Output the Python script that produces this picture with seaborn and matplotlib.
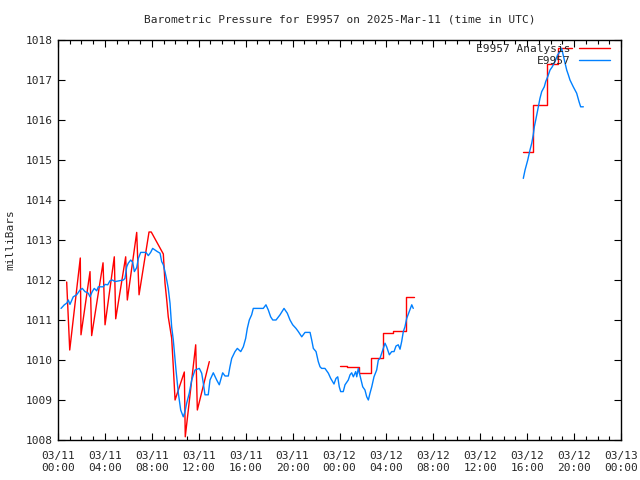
import pandas as pd
import numpy as np
import matplotlib
matplotlib.use("Agg")
import matplotlib.pyplot as plt
import matplotlib.dates as mdates
import seaborn as sns

# hours after 2025-03-11 00:00 UTC, pressure in mb
start = pd.Timestamp("2025-03-11 00:00")

# analysis, first stretch (sawtooth)
ana1_hours = [0.74, 1.00, 1.90, 1.96, 2.73, 2.87, 3.84, 4.01, 4.80, 4.92, 5.77, 5.91,
              6.71, 6.91, 7.76, 7.95, 8.98, 9.12, 9.27, 9.40, 9.69, 9.83, 9.98, 10.77,
              10.85, 11.74, 11.88, 12.90]
ana1_mb = [1011.95, 1010.25, 1012.55, 1010.63, 1012.21, 1010.61, 1012.43, 1010.88,
           1012.58, 1011.03, 1012.58, 1011.50, 1013.19, 1011.63, 1013.20, 1013.20,
           1012.65, 1011.93, 1011.50, 1011.08, 1010.55, 1009.83, 1009.00, 1009.70,
           1008.08, 1010.38, 1008.75, 1009.96]

# analysis, stepped stretches (change times, values, end time)
ana2_hours = [24.04, 24.61, 25.68, 26.68, 27.70, 28.59, 29.68]
ana2_mb = [1009.85, 1009.83, 1009.68, 1010.04, 1010.67, 1010.72, 1011.58]
ana2_end = 30.38

ana3_hours = [39.67, 40.52, 41.67, 42.65]
ana3_mb = [1015.19, 1016.37, 1017.39, 1017.79]
ana3_end = 43.80

# station observations
obs1_hours = [0.26, 0.54, 0.74, 0.88, 1.02, 1.30, 1.59, 1.88, 2.07, 2.30, 2.58, 2.73,
              2.92, 3.09, 3.30, 3.44, 3.86, 4.01, 4.24, 4.43, 4.63, 4.86, 5.57, 5.71,
              5.86, 5.99, 6.20, 6.37, 6.51, 6.71, 6.85, 7.05, 7.50, 7.70, 7.90, 8.07,
              8.27, 8.47, 8.70, 8.84, 8.98, 9.12, 9.27, 9.40, 9.55, 9.69, 9.83, 10.06,
              10.26, 10.46, 10.68, 10.83, 10.97, 11.19, 11.40, 11.68, 12.05, 12.25,
              12.39, 12.53, 12.81, 12.96, 13.24, 13.53, 13.75, 14.04, 14.24, 14.52,
              14.66, 14.81, 15.09, 15.29, 15.58, 15.80, 16.00, 16.14, 16.31, 16.51,
              16.65, 17.50, 17.73, 17.93, 18.13, 18.31, 18.59, 18.93, 19.27, 19.55,
              19.78, 20.01, 20.29, 20.49, 20.78, 21.06, 21.49, 21.63, 21.77, 22.00,
              22.19, 22.34, 22.48, 22.76, 23.05, 23.25, 23.53, 23.70, 23.85, 23.98,
              24.10, 24.32, 24.47, 24.75, 24.90, 25.04, 25.18, 25.38, 25.47, 25.60,
              25.81, 25.98, 26.17, 26.32, 26.46, 26.60, 26.75, 26.94, 27.17, 27.31,
              27.45, 27.60, 27.74, 27.88, 28.02, 28.25, 28.45, 28.65, 28.82, 29.01,
              29.16, 29.30, 29.44, 29.58, 29.73, 29.95, 30.16, 30.29]
obs1_mb = [1011.29, 1011.38, 1011.42, 1011.50, 1011.39, 1011.58, 1011.63, 1011.75,
           1011.79, 1011.71, 1011.67, 1011.58, 1011.71, 1011.79, 1011.73, 1011.83,
           1011.83, 1011.89, 1011.88, 1011.98, 1012.00, 1011.96, 1012.00, 1012.04,
           1012.33, 1012.42, 1012.50, 1012.44, 1012.21, 1012.31, 1012.54, 1012.69,
           1012.69, 1012.61, 1012.69, 1012.79, 1012.75, 1012.71, 1012.67, 1012.46,
           1012.38, 1012.21, 1012.00, 1011.79, 1011.42, 1010.83, 1010.50, 1009.75,
           1009.17, 1008.75, 1008.58, 1008.71, 1008.92, 1009.17, 1009.50, 1009.75,
           1009.79, 1009.67, 1009.42, 1009.13, 1009.13, 1009.50, 1009.68, 1009.50,
           1009.38, 1009.68, 1009.60, 1009.60, 1009.83, 1010.04, 1010.21, 1010.29,
           1010.21, 1010.33, 1010.54, 1010.79, 1011.00, 1011.13, 1011.29, 1011.29,
           1011.38, 1011.25, 1011.08, 1011.00, 1011.00, 1011.13, 1011.29, 1011.17,
           1011.00, 1010.88, 1010.79, 1010.71, 1010.58, 1010.69, 1010.69, 1010.50,
           1010.29, 1010.21, 1009.96, 1009.83, 1009.79, 1009.79, 1009.67, 1009.54,
           1009.40, 1009.54, 1009.58, 1009.33, 1009.21, 1009.21, 1009.38, 1009.50,
           1009.63, 1009.68, 1009.58, 1009.71, 1009.58, 1009.79, 1009.54, 1009.33,
           1009.25, 1009.08, 1009.00, 1009.17, 1009.33, 1009.58, 1009.75, 1010.00,
           1010.04, 1010.17, 1010.29, 1010.42, 1010.33, 1010.13, 1010.21, 1010.21,
           1010.35, 1010.38, 1010.27, 1010.46, 1010.71, 1010.83, 1011.04, 1011.21,
           1011.38, 1011.29]

obs2_hours = [39.67, 39.82, 40.05, 40.24, 40.39, 40.52, 40.61, 40.73, 40.90, 41.09,
              41.24, 41.46, 41.58, 41.75, 41.95, 42.14, 42.37, 42.60, 42.80, 42.94,
              43.17, 43.37, 43.51, 43.65, 43.93, 44.22, 44.42, 44.56, 44.79]
obs2_mb = [1014.54, 1014.75, 1015.00, 1015.25, 1015.42, 1015.63, 1015.83, 1016.00,
           1016.25, 1016.54, 1016.71, 1016.83, 1016.96, 1017.08, 1017.25, 1017.33,
           1017.46, 1017.63, 1017.71, 1017.79, 1017.50, 1017.25, 1017.13, 1017.00,
           1016.83, 1016.67, 1016.46, 1016.33, 1016.33]


def steps(hours, vals, end):
    # turn step changes into line vertices
    h = np.repeat(hours + [end], 2)[1:-1]
    v = np.repeat(vals, 2)
    return list(h), list(v)


frames = []
a2h, a2v = steps(ana2_hours, ana2_mb, ana2_end)
a3h, a3v = steps(ana3_hours, ana3_mb, ana3_end)
parts = [("E9957 Analysis", 1, ana1_hours, ana1_mb),
         ("E9957 Analysis", 2, a2h, a2v),
         ("E9957 Analysis", 3, a3h, a3v),
         ("E9957", 4, obs1_hours, obs1_mb),
         ("E9957", 5, obs2_hours, obs2_mb)]
for name, seg, h, v in parts:
    frames.append(pd.DataFrame({"hours": h, "mb": v, "series": name, "seg": seg}))
df = pd.concat(frames, ignore_index=True)
df["time"] = start + pd.to_timedelta(df["hours"], unit="h")

sns.set_style("ticks")
plt.rcParams["font.family"] = ["DejaVu Sans Mono"]

fig = plt.figure(figsize=(6.4, 4.8), dpi=100)
ax = fig.add_axes([58 / 640, 40 / 480, 563 / 640, 400 / 480])

sns.lineplot(data=df, x="time", y="mb", hue="series", units="seg", estimator=None,
             sort=False, palette={"E9957 Analysis": "#ff0000", "E9957": "#0080ff"},
             linewidth=1.0, ax=ax)

ax.set_xlim(start, start + pd.Timedelta(hours=48))
ax.set_ylim(1008, 1018)
ax.set_yticks(range(1008, 1019))
ax.xaxis.set_major_locator(mdates.HourLocator(byhour=range(0, 24, 4)))
ax.xaxis.set_minor_locator(mdates.HourLocator())
ax.xaxis.set_major_formatter(mdates.DateFormatter("%m/%d\n%H:%M"))
ax.tick_params(which="both", direction="in", top=True, right=True, labelsize=8,
               color="black", width=0.8)
ax.tick_params(which="major", length=5)
ax.tick_params(which="minor", length=3)
ax.tick_params(axis="x", which="major", pad=8)
for s in ax.spines.values():
    s.set_color("black")
    s.set_linewidth(1.0)

ax.set_xlabel("")
ax.set_ylabel("milliBars", fontsize=8)
ax.yaxis.set_label_coords(-0.075, 0.5)
ax.set_title("Barometric Pressure for E9957 on 2025-Mar-11 (time in UTC)",
             fontsize=8, pad=12.5)

ax.legend(loc="upper right", bbox_to_anchor=(0.987, 1.0), frameon=False,
          markerfirst=False, fontsize=8, handlelength=2.8, labelspacing=0.15,
          borderaxespad=0.05, handletextpad=0.7, borderpad=0.3)

fig.savefig("out.png", dpi=100)
